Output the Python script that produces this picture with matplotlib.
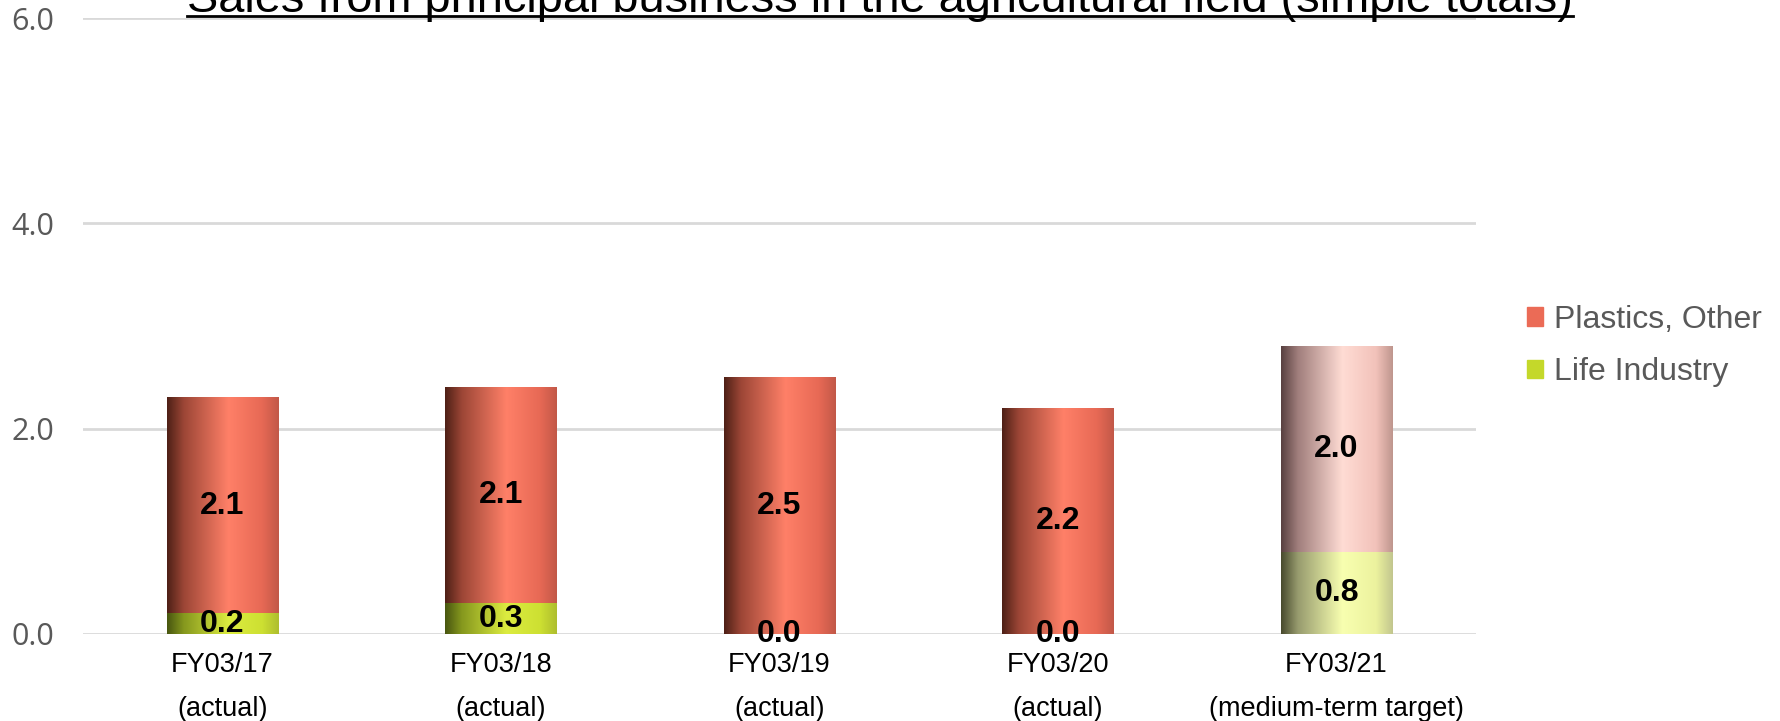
import numpy as np
import matplotlib
matplotlib.use("Agg")
import matplotlib.pyplot as plt
from matplotlib.colors import LinearSegmentedColormap
from matplotlib.lines import Line2D
from matplotlib.patches import Patch

# sales in the agricultural field, by segment
years = ["FY03/17", "FY03/18", "FY03/19", "FY03/20", "FY03/21"]
notes = ["(actual)", "(actual)", "(actual)", "(actual)", "(medium-term target)"]
life_industry = [0.2, 0.3, 0.0, 0.0, 0.8]
plastics_other = [2.1, 2.1, 2.5, 2.2, 2.0]

title = "Sales from principal business in the agricultural field (simple totals)"

plt.rcParams["font.family"] = ["Liberation Sans", "DejaVu Sans"]


def shade(stops):
    return LinearSegmentedColormap.from_list("shade", stops)


# cylinder-like horizontal shading for each segment
plastics_cm = shade([(0.0, "#4e2016"), (0.15, "#9c4636"), (0.55, "#ff8068"),
                     (0.85, "#e76955"), (1.0, "#c25848")])
life_cm = shade([(0.0, "#485610"), (0.15, "#86981e"), (0.55, "#dcec40"),
                 (0.85, "#cde032"), (1.0, "#aebe2e")])
plastics_target_cm = shade([(0.0, "#584040"), (0.15, "#a07e7c"), (0.55, "#ffdcd4"),
                            (0.85, "#f2c2ba"), (1.0, "#bf968e")])
life_target_cm = shade([(0.0, "#484a2e"), (0.15, "#979b6e"), (0.55, "#f8ffb0"),
                        (0.85, "#ecf29e"), (1.0, "#c2c68e")])

fig = plt.figure(figsize=(17.81, 7.21), dpi=100)
ax = fig.add_axes([0.0466, 0.1207, 0.7821, 0.8543])

x = np.arange(len(years))
width = 0.4
life_bars = ax.bar(x, life_industry, width, color="#c4d82a", zorder=2)
plastics_bars = ax.bar(x, plastics_other, width, bottom=life_industry,
                       color="#eb6b56", zorder=2)

grad = np.linspace(0, 1, 256).reshape(1, -1)
for i in range(len(years)):
    target = notes[i].startswith("(medium")
    for bar, cm in ((life_bars[i], life_target_cm if target else life_cm),
                    (plastics_bars[i], plastics_target_cm if target else plastics_cm)):
        x0, y0 = bar.get_x(), bar.get_y()
        w, h = bar.get_width(), bar.get_height()
        if h <= 0:
            continue
        ax.imshow(grad, cmap=cm, aspect="auto", extent=(x0, x0 + w, y0, y0 + h),
                  zorder=3, interpolation="bilinear")

for bars, vals in ((life_bars, life_industry), (plastics_bars, plastics_other)):
    ax.bar_label(bars, labels=[f"{v:.1f}" for v in vals], label_type="center",
                 fontsize=23, fontweight="bold", color="black", zorder=5)

ax.set_xlim(-0.5, len(years) - 0.5)
ax.set_ylim(0, 6)
ax.set_yticks([0, 2, 4, 6])
ax.set_yticklabels(["0.0", "2.0", "4.0", "6.0"], fontsize=22,
                   family=["Open Sans", "DejaVu Sans"], color="#595959")
ax.set_xticks(x)
ax.set_xticklabels([f"{y}\n{n}" for y, n in zip(years, notes)], fontsize=19.5,
                   color="black", linespacing=1.9)
ax.tick_params(axis="both", length=0)
ax.tick_params(axis="x", pad=13)
ax.tick_params(axis="y", pad=21)
ax.grid(axis="y", color="#d9d9d9", linewidth=2, zorder=0)
ax.set_axisbelow(True)
for s in ax.spines.values():
    s.set_visible(False)

handles = [Patch(color="#eb6b56", label="Plastics, Other"),
           Patch(color="#c4d82a", label="Life Industry")]
fig.legend(handles=handles, loc="upper left", bbox_to_anchor=(0.841, 0.617),
           frameon=False, fontsize=23, labelcolor="#595959",
           handlelength=0.5, handleheight=0.5, handletextpad=0.35,
           labelspacing=0.7)

t = fig.text(187 / 1781, 1 - 12 / 721, title, ha="left", va="baseline",
             fontsize=33.8, color="black")
fig.canvas.draw()
bb = t.get_window_extent()
fig.add_artist(Line2D([bb.x0, bb.x1], [fig.bbox.height - 16] * 2,
                      transform=None, color="black", linewidth=2))

fig.savefig("out.png", dpi=100)
